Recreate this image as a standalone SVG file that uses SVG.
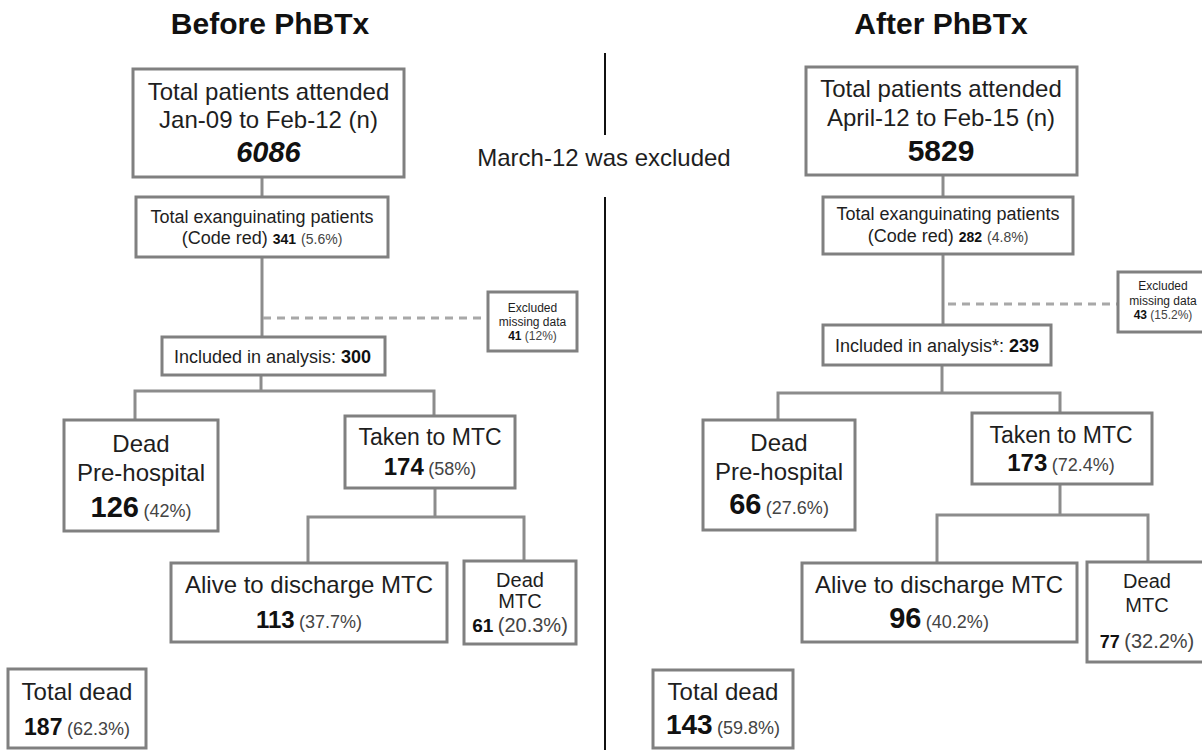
<svg xmlns="http://www.w3.org/2000/svg" width="1202" height="750" viewBox="0 0 1202 750">
<style>
text{font-family:"Liberation Sans",Arial,sans-serif;fill:#1e1e1e;text-anchor:middle}
.title{font-size:30px;font-weight:bold;fill:#111}
.box{fill:#fff;stroke:#808080;stroke-width:3}
.conn{fill:none;stroke:#8c8c8c;stroke-width:3}
.dash{fill:none;stroke:#a8a8a8;stroke-width:3;stroke-dasharray:8 6}
.div{stroke:#111;stroke-width:2}
.b{font-weight:bold;fill:#111}
.p{fill:#444}
.l24{font-size:24px}
.l23{font-size:23px}
.l20{font-size:20px}
.l18{font-size:18px}
.l12{font-size:12px}
</style>
<text class="title" x="270" y="34">Before PhBTx</text>
<text class="title" x="941" y="34">After PhBTx</text>
<g id="divider">
<line class="div" x1="605" y1="53" x2="605" y2="135"/>
<line class="div" x1="605" y1="197" x2="605" y2="750"/>
<text class="l24" x="604" y="166">March-12 was excluded</text>
</g>
<g id="connectors">
<path class="conn" d="M262 177 V197"/>
<path class="conn" d="M262 257 V337"/>
<path class="dash" d="M263 318 H488"/>
<path class="conn" d="M261 375 V391"/>
<path class="conn" d="M135 420 V391 H434 V416"/>
<path class="conn" d="M435 488 V517"/>
<path class="conn" d="M308 563 V517 H524 V561"/>
<path class="conn" d="M943 175 V197"/>
<path class="conn" d="M943 254 V325"/>
<path class="dash" d="M948 304 H1118"/>
<path class="conn" d="M942 365 V393"/>
<path class="conn" d="M778 420 V393 H1060 V413"/>
<path class="conn" d="M1060 484 V515"/>
<path class="conn" d="M937 563 V515 H1148 V562"/>
</g>
<g id="L-total-attended">
<rect class="box" x="133" y="69" width="271" height="108"/>
<text class="l24" x="268.5" y="100">Total patients attended</text>
<text class="l24" x="268.5" y="128">Jan-09 to Feb-12 (n)</text>
<text class="b" x="268.5" y="162" font-size="29" font-style="italic">6086</text>
</g>
<g id="L-code-red">
<rect class="box" x="136" y="197" width="252" height="60"/>
<text class="l18" x="262" y="223">Total exanguinating patients</text>
<text class="l18" x="262" y="244">(Code red) <tspan class="b" font-size="14">341</tspan> <tspan class="p" font-size="14">(5.6%)</tspan></text>
</g>
<g id="L-excluded">
<rect class="box" x="488" y="292" width="89" height="59"/>
<text class="l12" x="532.5" y="312">Excluded</text>
<text class="l12" x="532.5" y="326">missing data</text>
<text class="l12" x="532.5" y="340"><tspan class="b">41</tspan> <tspan class="p">(12%)</tspan></text>
</g>
<g id="L-included">
<rect class="box" x="162" y="337" width="223" height="38"/>
<text class="l18" x="272.5" y="363">Included in analysis: <tspan class="b">300</tspan></text>
</g>
<g id="L-dead-prehospital">
<rect class="box" x="64" y="420" width="154" height="111"/>
<text class="l24" x="141" y="452">Dead</text>
<text class="l24" x="141" y="481">Pre-hospital</text>
<text x="141" y="517"><tspan class="b" font-size="29">126</tspan> <tspan class="p" font-size="18">(42%)</tspan></text>
</g>
<g id="L-taken-mtc">
<rect class="box" x="345" y="416" width="170" height="72"/>
<text class="l23" x="430" y="445">Taken to MTC</text>
<text x="430" y="475"><tspan class="b" font-size="24">174</tspan> <tspan class="p" font-size="18">(58%)</tspan></text>
</g>
<g id="L-alive">
<rect class="box" x="171" y="563" width="276" height="79"/>
<text class="l24" x="309" y="593">Alive to discharge MTC</text>
<text x="309" y="628"><tspan class="b" font-size="24">113</tspan> <tspan class="p" font-size="18">(37.7%)</tspan></text>
</g>
<g id="L-dead-mtc">
<rect class="box" x="464" y="561" width="112" height="83"/>
<text class="l20" x="520" y="587">Dead</text>
<text class="l20" x="520" y="608">MTC</text>
<text x="520" y="632"><tspan class="b" font-size="19">61</tspan> <tspan class="p" font-size="20">(20.3%)</tspan></text>
</g>
<g id="L-total-dead">
<rect class="box" x="8" y="669" width="138" height="79"/>
<text class="l24" x="77" y="700">Total dead</text>
<text x="77" y="735"><tspan class="b" font-size="23">187</tspan> <tspan class="p" font-size="18">(62.3%)</tspan></text>
</g>
<g id="R-total-attended">
<rect class="box" x="806" y="67" width="271" height="108"/>
<text class="l24" x="941" y="97">Total patients attended</text>
<text class="l24" x="941" y="126">April-12 to Feb-15 (n)</text>
<text class="b" x="941" y="161" font-size="30">5829</text>
</g>
<g id="R-code-red">
<rect class="box" x="823" y="197" width="250" height="57"/>
<text class="l18" x="948" y="220">Total exanguinating patients</text>
<text class="l18" x="948" y="242">(Code red) <tspan class="b" font-size="14">282</tspan> <tspan class="p" font-size="14">(4.8%)</tspan></text>
</g>
<g id="R-excluded">
<rect class="box" x="1118" y="272" width="92" height="60"/>
<text class="l12" x="1163" y="290">Excluded</text>
<text class="l12" x="1163" y="305">missing data</text>
<text class="l12" x="1163" y="319"><tspan class="b">43</tspan> <tspan class="p">(15.2%)</tspan></text>
</g>
<g id="R-included">
<rect class="box" x="823" y="325" width="228" height="40"/>
<text class="l18" x="937" y="352">Included in analysis*: <tspan class="b">239</tspan></text>
</g>
<g id="R-dead-prehospital">
<rect class="box" x="703" y="420" width="152" height="110"/>
<text class="l24" x="779" y="451">Dead</text>
<text class="l24" x="779" y="480">Pre-hospital</text>
<text x="779" y="514"><tspan class="b" font-size="29">66</tspan> <tspan class="p" font-size="18">(27.6%)</tspan></text>
</g>
<g id="R-taken-mtc">
<rect class="box" x="972" y="413" width="180" height="71"/>
<text class="l23" x="1061" y="443">Taken to MTC</text>
<text x="1061" y="471"><tspan class="b" font-size="24">173</tspan> <tspan class="p" font-size="18">(72.4%)</tspan></text>
</g>
<g id="R-alive">
<rect class="box" x="802" y="563" width="275" height="79"/>
<text class="l24" x="939" y="593">Alive to discharge MTC</text>
<text x="939" y="628"><tspan class="b" font-size="29">96</tspan> <tspan class="p" font-size="18">(40.2%)</tspan></text>
</g>
<g id="R-dead-mtc">
<rect class="box" x="1087" y="562" width="125" height="100"/>
<text class="l20" x="1147" y="588">Dead</text>
<text class="l20" x="1147" y="612">MTC</text>
<text x="1147" y="648"><tspan class="b" font-size="18">77</tspan> <tspan class="p" font-size="20">(32.2%)</tspan></text>
</g>
<g id="R-total-dead">
<rect class="box" x="653" y="670" width="140" height="78"/>
<text class="l24" x="723" y="700">Total dead</text>
<text x="723" y="734"><tspan class="b" font-size="28">143</tspan> <tspan class="p" font-size="18">(59.8%)</tspan></text>
</g>
</svg>
